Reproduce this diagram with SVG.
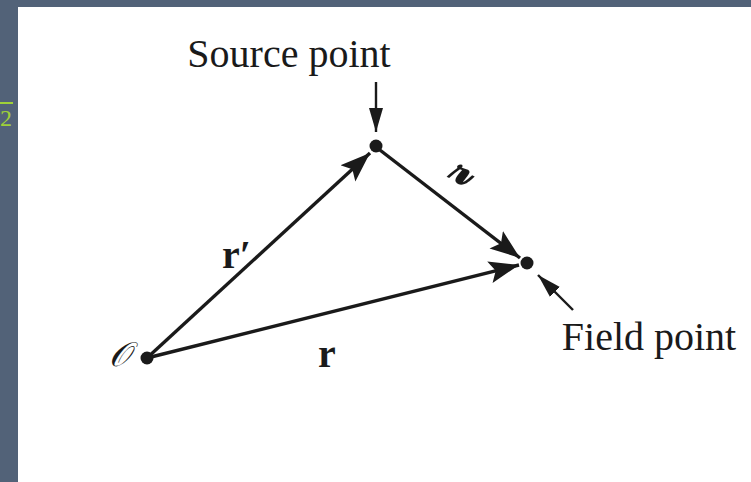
<svg xmlns="http://www.w3.org/2000/svg" width="751" height="482" viewBox="0 0 751 482">
<defs>
<style>
.bg{fill:#526278}
.panel{fill:#ffffff}
.lbl{font-family:"Liberation Serif","Times New Roman",serif;font-size:40px;fill:#1a1a1a}
.vec{font-family:"Liberation Serif","Times New Roman",serif;font-size:40px;font-weight:bold;fill:#1a1a1a}
.ln{stroke:#1a1a1a;stroke-width:3.4;fill:none}
.thin{stroke:#1a1a1a;stroke-width:2.4;fill:none}
.dot{fill:#1a1a1a}
</style>
<marker id="big" markerUnits="userSpaceOnUse" markerWidth="32" markerHeight="24" refX="30" refY="12" orient="auto" viewBox="0 0 32 24">
<path d="M0,1 L30,12 L0,23 L6,12 Z" fill="#1a1a1a"/>
</marker>
<marker id="small" markerUnits="userSpaceOnUse" markerWidth="26" markerHeight="16" refX="24" refY="8" orient="auto" viewBox="0 0 26 16">
<path d="M0,1 L24,8 L0,15 Z" fill="#1a1a1a"/>
</marker>
</defs>
<rect class="bg" x="0" y="0" width="751" height="482"/>
<rect class="panel" x="18" y="7" width="733" height="475"/>
<g id="edge-fragment">
<text x="0" y="126" font-family="Liberation Serif, serif" font-size="24" fill="#9fd038">2</text>
<line x1="0" y1="103" x2="13" y2="103" stroke="#9fd038" stroke-width="2"/>
</g>
<g id="connectors">
<line class="ln" x1="147" y1="358" x2="370" y2="153" marker-end="url(#big)"/>
<line class="ln" x1="376" y1="147" x2="520" y2="258" marker-end="url(#big)"/>
<line class="ln" x1="147" y1="358" x2="519" y2="265" marker-end="url(#big)"/>
<line class="thin" x1="376" y1="82" x2="376" y2="132" marker-end="url(#small)"/>
<line class="thin" x1="573" y1="310" x2="538" y2="275" marker-end="url(#small)"/>
</g>
<g id="origin">
<circle class="dot" cx="147" cy="358" r="6.5"/>
<text class="lbl" x="109" y="366" style="font-size:34px;font-style:italic">𝒪</text>
</g>
<g id="source">
<circle class="dot" cx="376" cy="146" r="6.5"/>
<text class="lbl" x="289" y="67" text-anchor="middle">Source point</text>
</g>
<g id="field">
<circle class="dot" cx="527" cy="263" r="6.5"/>
<text class="lbl" x="649" y="350" text-anchor="middle">Field point</text>
</g>
<g id="labels">
<text class="vec" x="222" y="268">r′</text>
<text class="vec" x="318" y="367">r</text>
<text class="lbl" transform="translate(448,184) scale(1.6,1.1)" style="font-weight:bold">𝓇</text>
</g>
</svg>
